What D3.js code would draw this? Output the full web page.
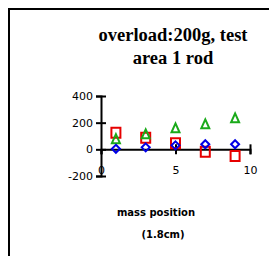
<!DOCTYPE html>
<html><head><meta charset="utf-8">
<script src="https://cdn.jsdelivr.net/npm/d3@7"></script>
<style>html,body{margin:0;padding:0;background:#fff;}svg{display:block;}</style>
</head><body>
<script>
const positions = [1, 3, 5, 7, 9];
const redSquares = [124, 86, 45, -19, -50];
const greenTriangles = [80, 116, 161, 191, 236];
const blueDiamonds = [4, 15, 30, 38, 38];
const yTicks = [-200, 0, 200, 400];
const xTicks = [0, 5, 10];
const titleLines = ["overload:200g, test", "area 1 rod"];
const xTitleLines = ["mass position", "(1.8cm)"];

const W = 269, H = 256;
const svg = d3.select("body").append("svg").attr("width", W).attr("height", H);
svg.append("rect").attr("width", W).attr("height", H).attr("fill", "#fff");
// frame (left and top visible)
svg.append("path").attr("d", "M9,260 V9 H272").attr("fill", "none").attr("stroke", "#000").attr("stroke-width", 2);

const x = d3.scaleLinear().domain([0, 10]).range([101, 250]);
const y = d3.scaleLinear().domain([-200, 400]).range([176, 96]);

// title
svg.append("g").selectAll("text").data(titleLines).join("text")
  .attr("x", 173).attr("y", (d, i) => 41 + i * 23)
  .attr("text-anchor", "middle")
  .attr("font-family", "Liberation Serif, Times New Roman, serif")
  .attr("font-weight", "bold").attr("font-size", 18.5)
  .text(d => d);

const fmt = d => String(d);
// y axis
svg.append("g").attr("transform", `translate(${x(0)},0)`)
  .call(d3.axisLeft(y).tickValues(yTicks).tickSize(5).tickPadding(3).tickFormat(fmt));
svg.append("g").attr("transform", `translate(${x(0)},0)`)
  .call(d3.axisRight(y).tickValues(yTicks).tickSize(5).tickFormat(""))
  .select(".domain").remove();

// x axis
svg.append("g").attr("transform", `translate(0,${y(0)})`)
  .call(d3.axisBottom(x).tickValues(xTicks).tickSize(5).tickPadding(12).tickFormat(fmt));
svg.append("g").attr("transform", `translate(0,${y(0)})`)
  .call(d3.axisTop(x).tickValues(xTicks.filter(d => d > 0)).tickSize(5).tickFormat(""))
  .select(".domain").remove();

svg.selectAll(".domain").attr("stroke", "#000").attr("stroke-width", 2);
svg.selectAll(".tick line").attr("stroke", "#000").attr("stroke-width", 2);
svg.selectAll(".tick text").attr("font-family", "DejaVu Sans, Verdana, sans-serif")
  .attr("font-size", 11).attr("fill", "#000");

// markers
const shapes = {
  square: "M-4.5,-5H4.5V5H-4.5Z",
  triangle: "M0,-4.5L4,4.5H-4Z",
  diamond: "M0,-4L4,0L0,4L-4,0Z"
};
const series = [
  { vals: redSquares, shape: shapes.square, color: "#e60000" },
  { vals: greenTriangles, shape: shapes.triangle, color: "#1aaa1a" },
  { vals: blueDiamonds, shape: shapes.diamond, color: "#0000e6" }
];
series.forEach(s => {
  svg.append("g").selectAll("path").data(positions).join("path")
    .attr("transform", (d, i) => `translate(${x(d)},${y(s.vals[i])})`)
    .attr("d", s.shape)
    .attr("fill", "none").attr("stroke", s.color).attr("stroke-width", 2);
});

// x axis title
svg.append("g").selectAll("text").data(xTitleLines).join("text")
  .attr("x", (d, i) => i === 0 ? 156 : 163).attr("y", (d, i) => 216 + i * 22)
  .attr("text-anchor", "middle")
  .attr("font-family", "DejaVu Sans, Verdana, sans-serif")
  .attr("font-weight", "bold").attr("font-size", 10)
  .text(d => d);
</script>
</body></html>
